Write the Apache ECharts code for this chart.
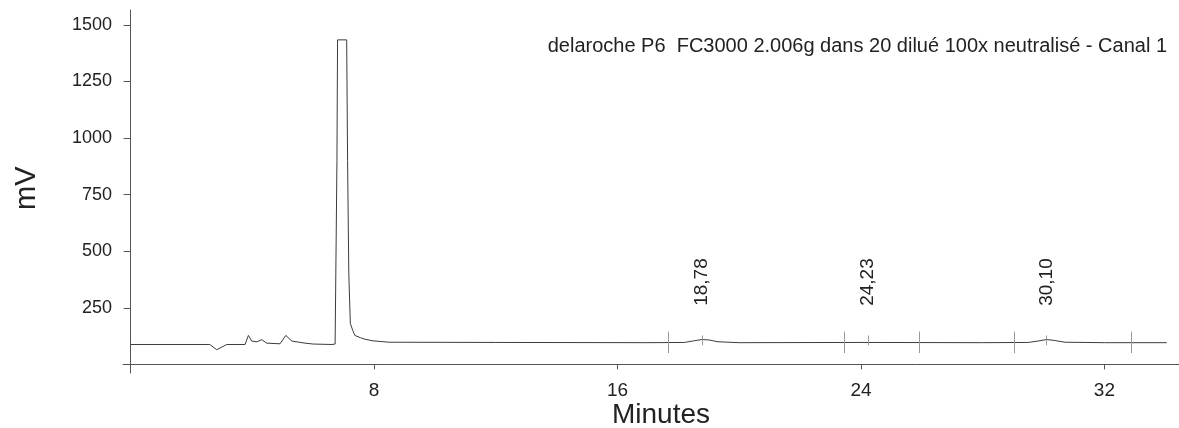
<!DOCTYPE html>
<html>
<head>
<meta charset="utf-8">
<script src="https://cdn.jsdelivr.net/npm/echarts@6/dist/echarts.min.js"></script>
<style>
html,body{margin:0;padding:0;background:#fff;}
#chart{width:1179px;height:428px;}
</style>
</head>
<body>
<div id="chart"></div>
<script>
// ---- data ----
const chartTitle = 'delaroche P6  FC3000 2.006g dans 20 dilué 100x neutralisé - Canal 1';
const xName = 'Minutes';
const yName = 'mV';
const xTicks = [8, 16, 24, 32];
const yTicks = [250, 500, 750, 1000, 1250, 1500];

const times = [0, 2.6, 2.83, 3.16, 3.76, 3.87, 3.98, 4.15, 4.31, 4.47, 4.91, 5.1, 5.3, 5.73, 6.0, 6.62, 6.66, 6.72,
  6.78, 6.8, 7.1, 7.13, 7.17, 7.22, 7.3, 7.37, 7.55, 7.7, 7.97, 8.5, 12, 17, 18.2, 18.5, 18.78, 19.0, 19.3, 20,
  24, 28, 29.5, 29.85, 30.1, 30.35, 30.7, 32, 34.05];
const signal = [88, 88, 65, 88, 88, 128, 103, 100, 109, 94, 91, 128, 103, 94, 90, 88, 92, 90,
  900, 1434, 1434, 900, 400, 181, 150, 128, 118, 111, 104, 98, 97, 96, 97, 104, 110, 108, 100, 96,
  97, 96, 97, 104, 110, 106, 98, 96, 96];

const peakTimes = [18.78, 24.23, 30.10];
const peakLabels = ['18,78', '24,23', '30,10'];
const eventTimes = [17.66, 23.44, 25.9, 29.03, 32.87];

// ---- chart ----
const FONT = 'Liberation Sans, Arial, sans-serif';
const TXT = '#222';
const AX = '#555';
const LABEL_LEVEL = 364;

const chart = echarts.init(document.getElementById('chart'), null, {renderer: 'canvas'});

const traceData = times.map((t, i) => [t, signal[i]]);
const eventLines = eventTimes.map(t => [{coord: [t, 50]}, {coord: [t, 145]}]);
const peakMarks = peakTimes.map(t => [{coord: [t, 85]}, {coord: [t, 128]}]);

chart.setOption({
  animation: false,
  backgroundColor: '#fff',
  textStyle: {fontFamily: FONT},
  title: {
    text: chartTitle,
    right: 7,
    top: 31,
    textStyle: {fontFamily: FONT, fontSize: 20, fontWeight: 'normal', color: TXT}
  },
  grid: {left: 123, right: 0, top: 10, bottom: 55, containLabel: false},
  xAxis: {
    type: 'value',
    min: -0.25,
    max: 34.45,
    axisLine: {show: true, onZero: true, lineStyle: {color: AX, width: 1}},
    axisTick: {show: true, customValues: xTicks, length: 5, lineStyle: {color: AX}},
    axisLabel: {customValues: xTicks, fontSize: 19, color: TXT, margin: 8, fontFamily: FONT,
      formatter: v => String(v)},
    splitLine: {show: false}
  },
  yAxis: {
    type: 'value',
    min: -38,
    max: 1566,
    axisLine: {show: true, onZero: true, lineStyle: {color: AX, width: 1}},
    axisTick: {show: true, customValues: yTicks, length: 7, lineStyle: {color: AX}},
    axisLabel: {customValues: yTicks, fontSize: 18, color: TXT, margin: 11, fontFamily: FONT,
      formatter: v => String(v)},
    splitLine: {show: false}
  },
  graphic: [
    {type: 'text', left: 612, top: 401, style: {text: xName, font: '28px ' + FONT, fill: TXT}},
    {type: 'text', x: 12, y: 210, rotation: Math.PI / 2, style: {text: yName, font: '29px ' + FONT, fill: TXT}}
  ],
  series: [
    {
      type: 'line',
      data: traceData,
      showSymbol: false,
      symbol: 'none',
      lineStyle: {color: '#3c3c3c', width: 1},
      markLine: {
        silent: true,
        symbol: ['none', 'none'],
        label: {show: false},
        lineStyle: {color: '#9a9a9a', width: 1, type: 'solid'},
        data: eventLines.concat(peakMarks)
      }
    },
    {
      type: 'scatter',
      symbolSize: 0,
      itemStyle: {opacity: 1},
      data: peakTimes.map((t, i) => ({value: [t, LABEL_LEVEL], name: peakLabels[i]})),
      label: {
        show: true,
        position: 'inside',
        rotate: 90,
        formatter: p => p.name,
        fontSize: 19,
        color: TXT,
        opacity: 1,
        fontFamily: FONT
      }
    }
  ]
});
</script>
</body>
</html>
